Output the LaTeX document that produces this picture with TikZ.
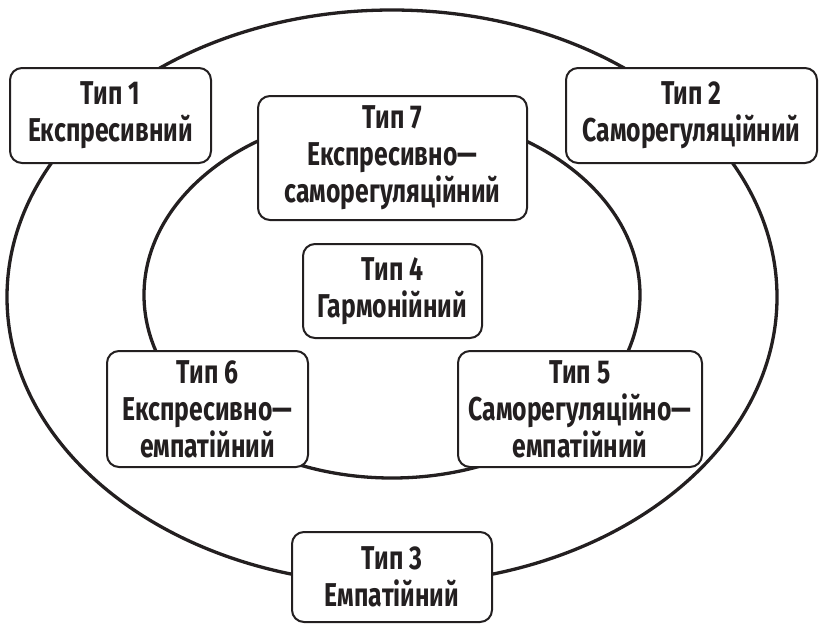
\documentclass[tikz,border=0pt]{standalone}
\usepackage{fontspec}
\setmainfont{Fira Sans}[FakeStretch=0.75]
\definecolor{ink}{HTML}{231F20}
\begin{document}
\begin{tikzpicture}[x=1pt,y=-1pt,
  ring/.style={draw=ink,line width=3.3pt},
  tbox/.style={draw=ink,line width=2pt,rounded corners=12pt,fill=white,
    text=ink,align=center,inner sep=0pt,
    font=\bfseries\fontsize{33}{37}\selectfont}]
\useasboundingbox (0,0) rectangle (819,625);
\draw[ring] (392,297) ellipse [x radius=385, y radius=287];
\draw[ring] (392,295) ellipse [x radius=248, y radius=183];
\node[tbox,minimum width=201pt,minimum height=95pt] (t1) at (110.5,115.5) {Тип 1\\Експресивний};
\node[tbox,minimum width=251pt,minimum height=95pt] (t2) at (691.5,115.5) {Тип 2\\Саморегуляційний};
\node[tbox,minimum width=269pt,minimum height=124pt] (t7) at (392.5,158) {Тип 7\\Експресивно—\\саморегуляційний};
\node[tbox,minimum width=179pt,minimum height=94pt] (t4) at (392.5,291) {Тип 4\\Гармонійний};
\node[tbox,minimum width=201pt,minimum height=116pt] (t6) at (207.5,409) {Тип 6\\Експресивно—\\емпатійний};
\node[tbox,minimum width=244pt,minimum height=116pt] (t5) at (580,409) {Тип 5\\Саморегуляційно—\\емпатійний};
\node[tbox,minimum width=200pt,minimum height=90pt] (t3) at (392,577) {Тип 3\\Емпатійний};
\end{tikzpicture}
\end{document}
